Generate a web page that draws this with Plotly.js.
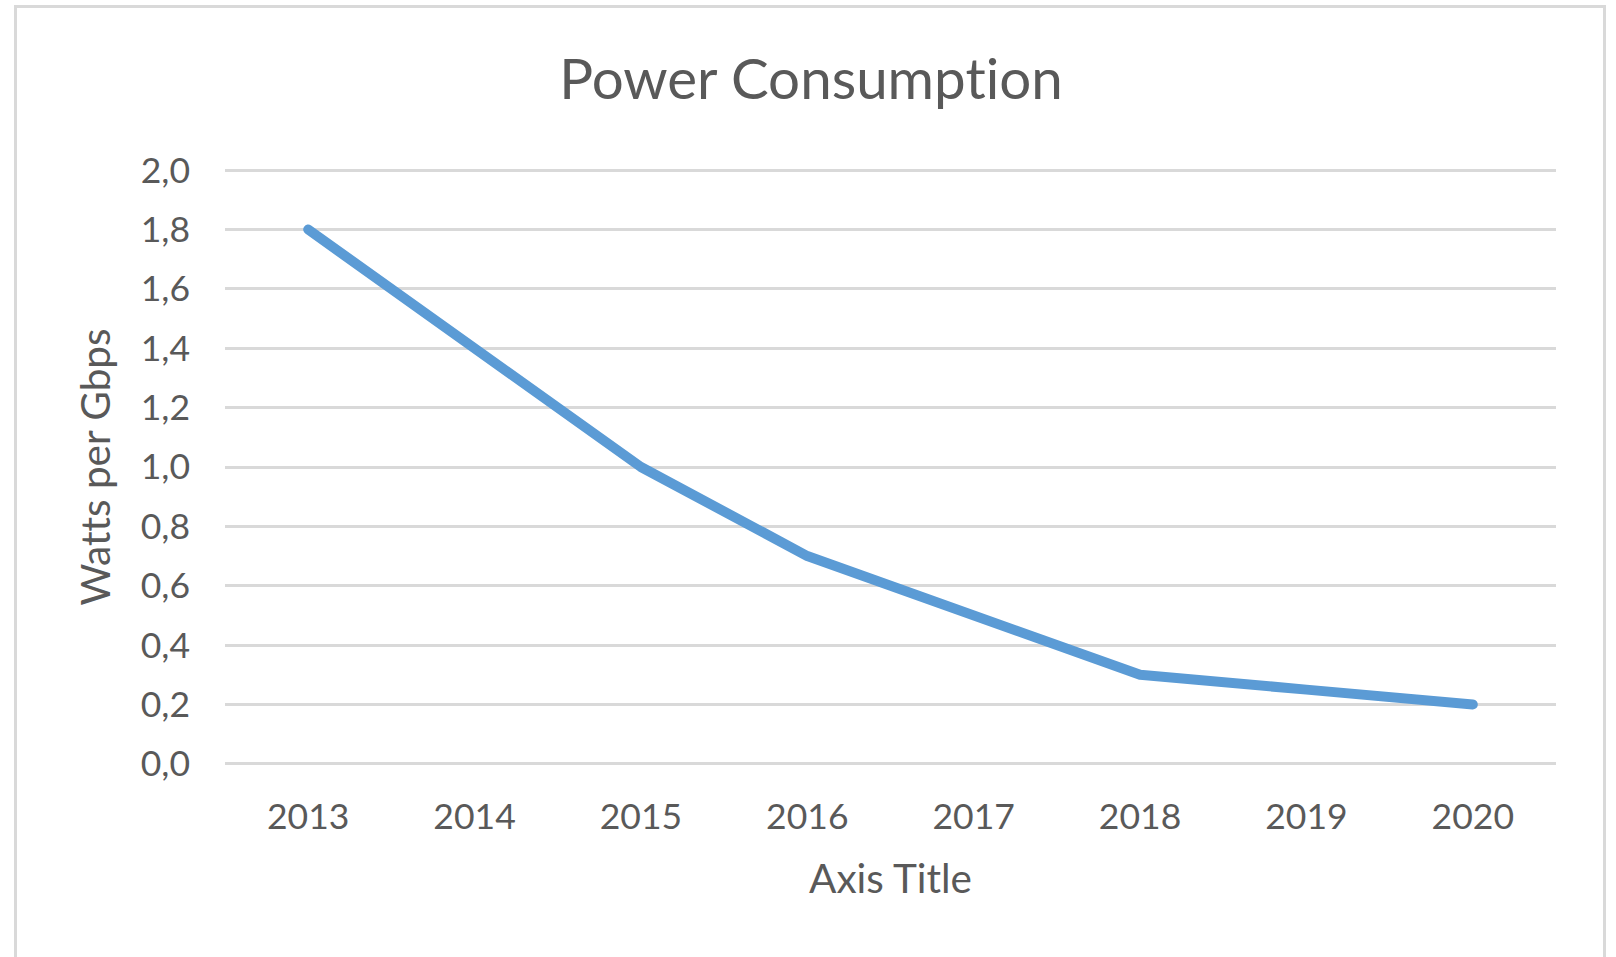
<!DOCTYPE html>
<html>
<head>
<meta charset="utf-8">
<script src="https://cdn.plot.ly/plotly-3.0.1.min.js"></script>
<style>
  html, body { margin: 0; padding: 0; background: #fff; }
  #chart { position: absolute; left: 0; top: 0; width: 1616px; height: 957px; }
  #chart text { font-variant-ligatures: none; font-feature-settings: "liga" 0, "clig" 0; }
  #chart .scatterlayer path.js-line { stroke-linecap: round; stroke-linejoin: round; }
  #frame { position: absolute; left: 14px; top: 5px; width: 1586px; height: 960px;
           border: 3px solid #d9d9d9; border-bottom: none; pointer-events: none; }
</style>
</head>
<body>
<div id="chart"></div>
<div id="frame"></div>
<script>
const years = ['2013', '2014', '2015', '2016', '2017', '2018', '2019', '2020'];
const wattsPerGbps = [1.8, 1.4, 1.0, 0.7, 0.5, 0.3, 0.25, 0.2];
const yTickValues = [0, 0.2, 0.4, 0.6, 0.8, 1.0, 1.2, 1.4, 1.6, 1.8, 2.0];
const yTickLabels = ['0,0', '0,2', '0,4', '0,6', '0,8', '1,0', '1,2', '1,4', '1,6', '1,8', '2,0'];

const FONT = 'Lato, "Open Sans", sans-serif';
const GREY = '#595959';

const trace = {
  type: 'scatter',
  mode: 'lines',
  x: years,
  y: wattsPerGbps,
  line: { color: '#5b9bd5', width: 10 },
  hoverinfo: 'x+y'
};

const layout = {
  width: 1616,
  height: 957,
  paper_bgcolor: '#ffffff',
  plot_bgcolor: '#ffffff',
  margin: { l: 225, r: 60, t: 169, b: 192 },
  showlegend: false,
  title: {
    text: 'Power Consumption',
    font: { family: FONT, size: 56.5, color: GREY },
    x: 811 / 1616,
    xref: 'container',
    xanchor: 'center',
    y: 1 - 79 / 957,
    yref: 'container',
    yanchor: 'middle'
  },
  xaxis: {
    type: 'category',
    range: [-0.5, 7.5],
    showgrid: false,
    zeroline: false,
    showline: false,
    ticks: '',
    tickfont: { family: FONT, size: 35.5, color: GREY },
    ticklabelstandoff: 27,
    title: {
      text: 'Axis Title',
      font: { family: FONT, size: 40.5, color: GREY },
      standoff: 29
    },
    automargin: false,
    fixedrange: true
  },
  yaxis: {
    range: [-0.004, 2.004],
    tickvals: yTickValues,
    ticktext: yTickLabels,
    showgrid: true,
    gridcolor: '#d9d9d9',
    gridwidth: 3,
    zeroline: false,
    showline: false,
    ticks: '',
    tickfont: { family: FONT, size: 35.5, color: GREY },
    ticklabelstandoff: 34,
    title: {
      text: 'Watts per Gbps',
      font: { family: FONT, size: 40.5, color: GREY },
      standoff: 17
    },
    automargin: false,
    fixedrange: true
  }
};

Plotly.newPlot('chart', [trace], layout, { displayModeBar: false, staticPlot: true });
</script>
</body>
</html>
